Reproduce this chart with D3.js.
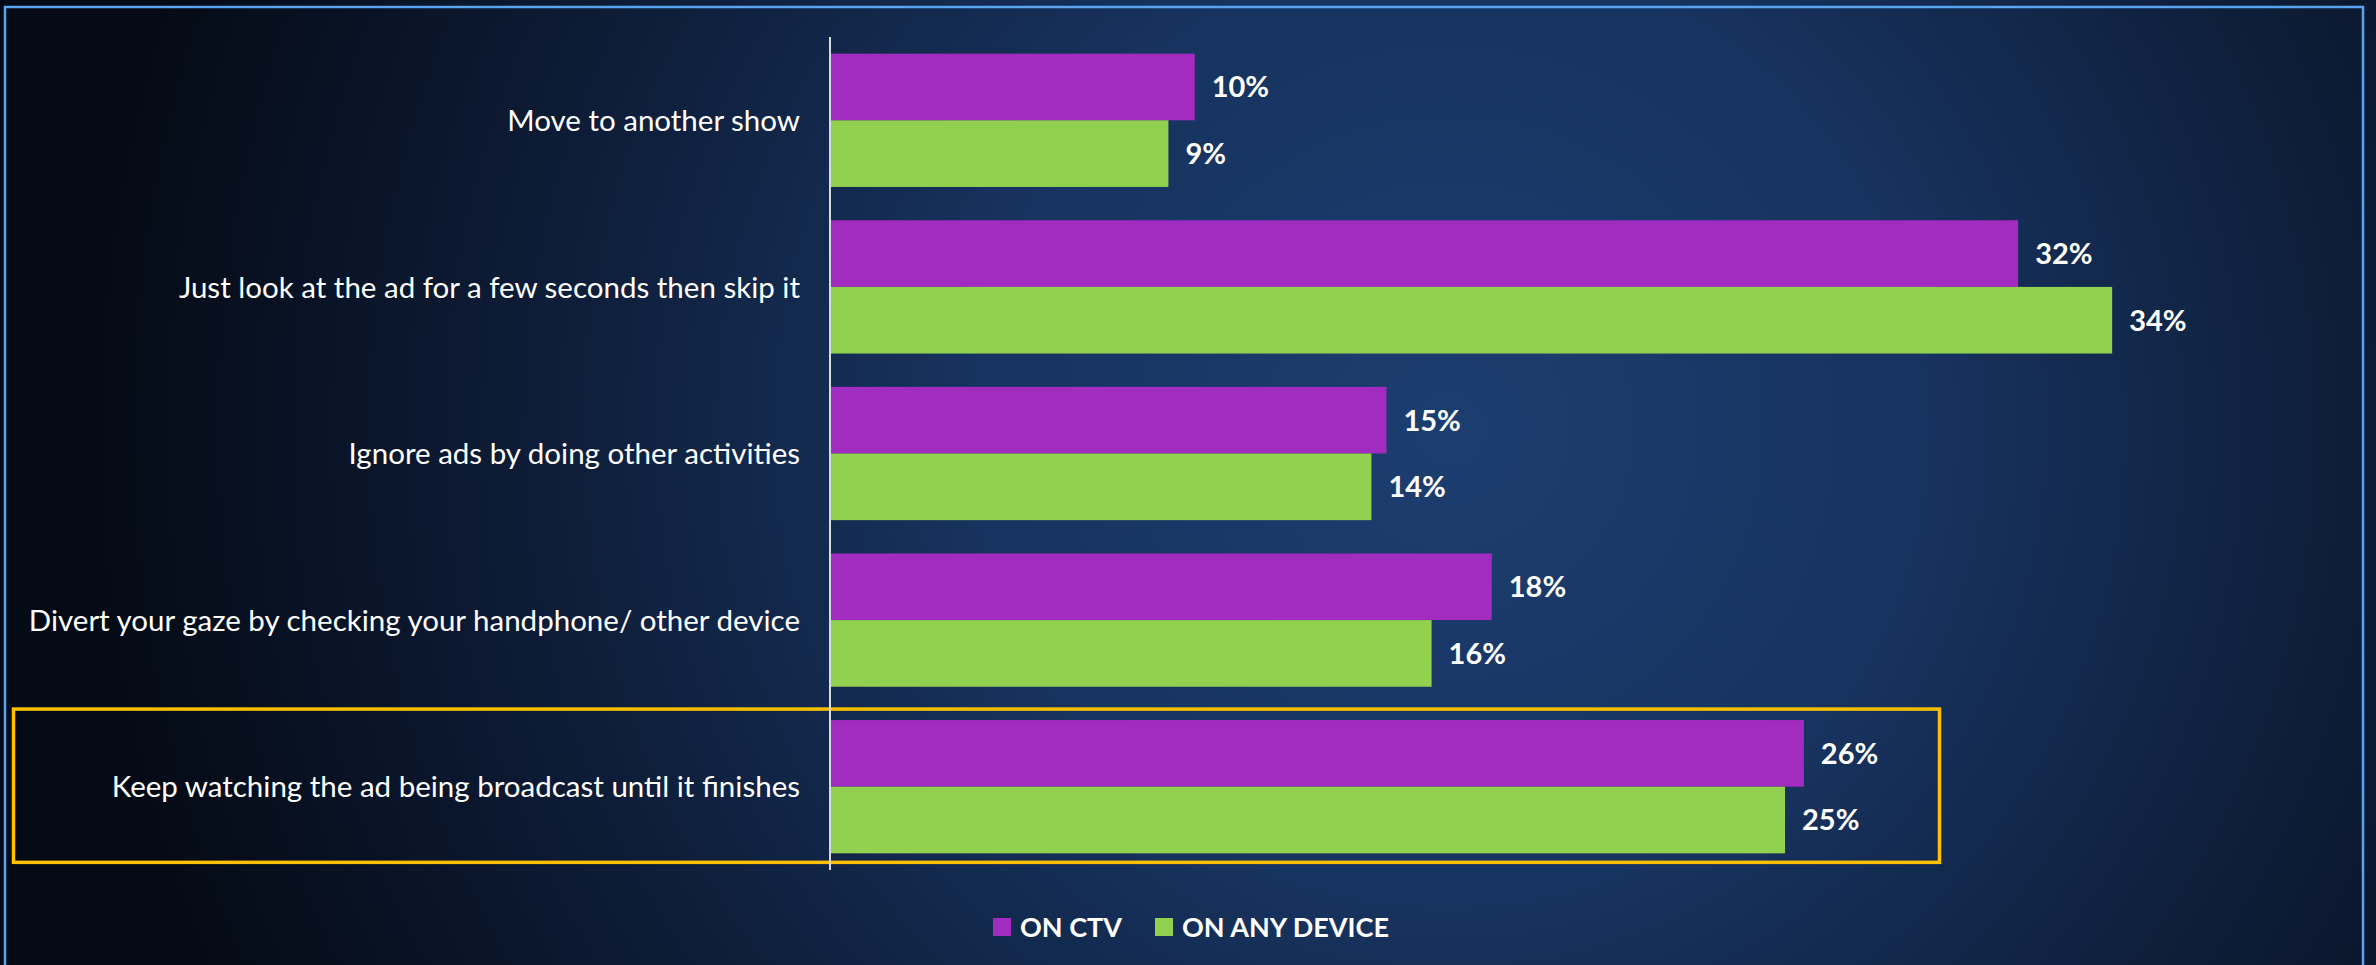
<!DOCTYPE html>
<html>
<head>
<meta charset="utf-8">
<script src="https://cdn.jsdelivr.net/npm/d3@7"></script>
<style>
  body { margin: 0; background: #050b16; }
  svg { display: block; }
</style>
</head>
<body>
<svg id="chart" width="2376" height="965"></svg>
<script>
// answers, top to bottom
var categories = [
  "Move to another show",
  "Just look at the ad for a few seconds then skip it",
  "Ignore ads by doing other activities",
  "Divert your gaze by checking your handphone/ other device",
  "Keep watching the ad being broadcast until it finishes"
]
var seriesNames = ["ON CTV", "ON ANY DEVICE"]
var onCtv = [9.7, 31.6, 14.8, 17.6, 25.9]
var onAnyDevice = [9.0, 34.1, 14.4, 16.0, 25.4]
var seriesColors = ["#a22cc0", "#92d050"]
var highlighted = "Keep watching the ad being broadcast until it finishes"

var svg = d3.select("#chart")
var W = 2376, H = 965

// background
var defs = svg.append("defs")
var grad = defs.append("radialGradient").attr("id", "bg")
  .attr("gradientUnits", "userSpaceOnUse")
  .attr("cx", 1450).attr("cy", 430).attr("r", 1350)
grad.append("stop").attr("offset", "0").attr("stop-color", "#1c3e70")
grad.append("stop").attr("offset", "0.35").attr("stop-color", "#17335f")
grad.append("stop").attr("offset", "0.7").attr("stop-color", "#0d1b35")
grad.append("stop").attr("offset", "1").attr("stop-color", "#050b16")
svg.append("rect").attr("width", W).attr("height", H).attr("fill", "url(#bg)")

// thin blue frame
svg.append("rect")
  .attr("x", 5).attr("y", 7).attr("width", 2358).attr("height", H + 20)
  .attr("fill", "none").attr("stroke", "#5aa3ee").attr("stroke-width", 2.5)

var axisX = 830
var x = d3.scaleLinear().domain([0, 40]).range([axisX, axisX + 37.6 * 40])
var y = d3.scaleBand().domain(categories).range([37, 870])
  .paddingInner(0.2).paddingOuter(0.1)
var ySub = d3.scaleBand().domain(seriesNames).range([0, y.bandwidth()])

var rows = categories.map(function(c, i) {
  return {cat: c, vals: [onCtv[i], onAnyDevice[i]]}
})

// highlight box
var hb = y(highlighted)
svg.append("rect")
  .attr("x", 13.5).attr("y", hb - 11)
  .attr("width", 1926).attr("height", y.bandwidth() + 20)
  .attr("fill", "none").attr("stroke", "#ffc000").attr("stroke-width", 3.5)

var groups = svg.append("g").selectAll("g").data(rows).enter()
  .append("g")
  .attr("transform", function(d) { return "translate(0," + y(d.cat) + ")" })

groups.selectAll("rect").data(function(d) { return d.vals }).enter()
  .append("rect")
  .attr("x", x(0))
  .attr("y", function(d, i) { return ySub(seriesNames[i]) })
  .attr("width", function(d) { return x(d) - x(0) })
  .attr("height", ySub.bandwidth())
  .attr("fill", function(d, i) { return seriesColors[i] })

var pct = function(v) { return Math.round(v) + "%" }
groups.selectAll("text.val").data(function(d) { return d.vals }).enter()
  .append("text").attr("class", "val")
  .attr("x", function(d) { return x(d) + 17 })
  .attr("y", function(d, i) { return ySub(seriesNames[i]) + ySub.bandwidth() / 2 })
  .attr("dy", "0.36em")
  .attr("fill", "white")
  .attr("font-family", "Lato, 'Open Sans', sans-serif")
  .attr("font-weight", "bold")
  .attr("font-size", "29px")
  .text(pct)

// category labels
svg.append("g").selectAll("text").data(categories).enter()
  .append("text")
  .attr("x", 800)
  .attr("y", function(d) { return y(d) + y.bandwidth() / 2 })
  .attr("dy", "0.36em")
  .attr("text-anchor", "end")
  .attr("fill", "white")
  .attr("font-family", "Lato, 'Open Sans', sans-serif")
  .attr("font-size", "29.5px")
  .text(function(d) { return d })

// vertical axis line
svg.append("line")
  .attr("x1", axisX).attr("x2", axisX)
  .attr("y1", y.range()[0]).attr("y2", y.range()[1])
  .attr("stroke", "#d9d9d9").attr("stroke-width", 2)

// legend
var legend = svg.append("g").attr("transform", "translate(993,927)")
var legX = [0, 162]
seriesNames.forEach(function(n, i) {
  var g = legend.append("g").attr("transform", "translate(" + legX[i] + ",0)")
  g.append("rect").attr("x", 0).attr("y", -9).attr("width", 18).attr("height", 18)
    .attr("fill", seriesColors[i])
  g.append("text").attr("x", 27).attr("dy", "0.36em")
    .attr("fill", "white")
    .attr("font-family", "Lato, 'Open Sans', sans-serif")
    .attr("font-weight", "bold")
    .attr("font-size", "27px")
    .text(n)
})
</script>
</body>
</html>
